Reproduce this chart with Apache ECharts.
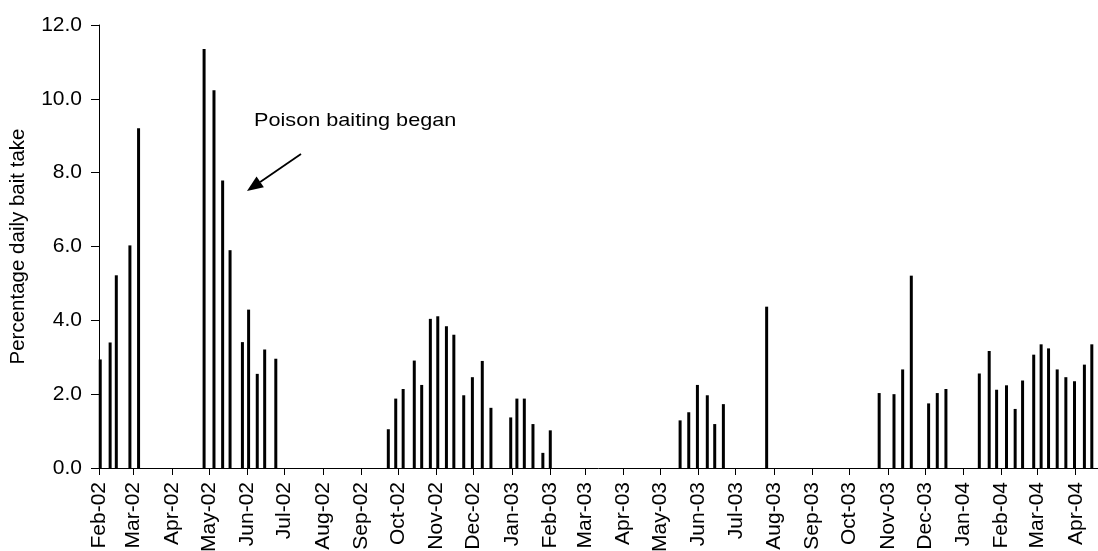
<!DOCTYPE html>
<html>
<head>
<meta charset="utf-8">
<script src="https://cdn.jsdelivr.net/npm/echarts@6/dist/echarts.min.js"></script>
<style>
  html, body { margin: 0; padding: 0; background: #fff; }
  #chart { width: 1098px; height: 551px; }
</style>
</head>
<body>
<div id="chart"></div>
<script>
// Survey dates of each bait-take count
const sampleDates = [
  '2002-02-02', '2002-02-10', '2002-02-15', '2002-02-26', '2002-03-05',
  '2002-04-27', '2002-05-05', '2002-05-12', '2002-05-18', '2002-05-28',
  '2002-06-02', '2002-06-09', '2002-06-15', '2002-06-24',
  '2002-09-23', '2002-09-29', '2002-10-05', '2002-10-14', '2002-10-20',
  '2002-10-27', '2002-11-02', '2002-11-09', '2002-11-15', '2002-11-23',
  '2002-11-30', '2002-12-08', '2002-12-15', '2002-12-31', '2003-01-05',
  '2003-01-11', '2003-01-18', '2003-01-26', '2003-02-01',
  '2003-05-17', '2003-05-24', '2003-05-31', '2003-06-08', '2003-06-14', '2003-06-21',
  '2003-07-26',
  '2003-10-25', '2003-11-06', '2003-11-13', '2003-11-20', '2003-12-04',
  '2003-12-11', '2003-12-18',
  '2004-01-14', '2004-01-22', '2004-01-28', '2004-02-05', '2004-02-12',
  '2004-02-18', '2004-02-27', '2004-03-04', '2004-03-10', '2004-03-17',
  '2004-03-24', '2004-03-31', '2004-04-08', '2004-04-14'
];

// Percentage daily bait take on each date
const baitTake = [
  2.94, 3.40, 5.22, 6.03, 9.20,
  11.35, 10.23, 7.79, 5.90, 3.41,
  4.29, 2.55, 3.21, 2.96,
  1.05, 1.88, 2.14, 2.91, 2.25,
  4.04, 4.11, 3.84, 3.61, 1.97,
  2.46, 2.90, 1.63, 1.37, 1.88,
  1.88, 1.19, 0.41, 1.02,
  1.29, 1.51, 2.25, 1.97, 1.19, 1.73,
  4.37,
  2.03, 2.00, 2.67, 5.21, 1.75,
  2.03, 2.14,
  2.56, 3.17, 2.12, 2.24, 1.60,
  2.37, 3.07, 3.35, 3.24, 2.67,
  2.46, 2.35, 2.80, 3.35
];

// Monthly tick marks along the date axis
const tickDates = [
  '2002-02-01', '2002-03-01', '2002-04-01', '2002-05-01', '2002-06-01',
  '2002-07-01', '2002-08-01', '2002-09-01', '2002-10-01', '2002-11-01',
  '2002-12-01', '2003-01-01', '2003-02-01', '2003-03-01', '2003-04-01',
  '2003-05-01', '2003-06-01', '2003-07-01', '2003-08-01', '2003-09-01',
  '2003-10-01', '2003-11-01', '2003-12-01', '2004-01-01', '2004-02-01',
  '2004-03-01', '2004-04-01'
];
const tickLabels = [
  'Feb-02', 'Mar-02', 'Apr-02', 'May-02', 'Jun-02', 'Jul-02', 'Aug-02',
  'Sep-02', 'Oct-02', 'Nov-02', 'Dec-02', 'Jan-03', 'Feb-03', 'Mar-03',
  'Apr-03', 'May-03', 'Jun-03', 'Jul-03', 'Aug-03', 'Sep-03', 'Oct-03',
  'Nov-03', 'Dec-03', 'Jan-04', 'Feb-04', 'Mar-04', 'Apr-04'
];

const axisStart = '2002-02-01';
const axisEnd = '2004-04-19';

const DAY = 86400000;
function parseDate(s) {
  const p = s.split('-').map(Number);
  return Date.UTC(p[0], p[1] - 1, p[2]);
}
const origin = parseDate(axisStart);
// Whole days since the axis start, so the scale is linear in calendar time
function toDay(s) {
  return Math.round((parseDate(s) - origin) / DAY);
}

const tickDays = tickDates.map(toDay);
const labelByDay = {};
tickDays.forEach((d, i) => { labelByDay[d] = tickLabels[i]; });

const FONT = '"Liberation Sans", Arial, sans-serif';

const chart = echarts.init(document.getElementById('chart'), null, { renderer: 'canvas' });

// Arrow pointing at the start of poisoning
const arrowTail = [301, 154];
const arrowTip = [247, 191];
const headLen = 16, headHalf = 6.5;
const dx = arrowTip[0] - arrowTail[0], dy = arrowTip[1] - arrowTail[1];
const len = Math.hypot(dx, dy);
const ux = dx / len, uy = dy / len;
const base = [arrowTip[0] - headLen * ux, arrowTip[1] - headLen * uy];
const nx = -uy, ny = ux;

chart.setOption({
  animation: false,
  backgroundColor: '#ffffff',
  grid: {
    left: 99, right: 0, top: 25, bottom: 83,
    containLabel: false,
    outerBoundsMode: 'none'
  },
  xAxis: {
    type: 'value',
    min: toDay(axisStart),
    max: toDay(axisEnd),
    axisLine: { show: true, onZero: false, lineStyle: { color: '#000', width: 1 } },
    axisTick: {
      show: true, length: 7, inside: false,
      customValues: tickDays,
      lineStyle: { color: '#000', width: 1 }
    },
    axisLabel: {
      show: true,
      customValues: tickDays,
      rotate: 90,
      margin: 14,
      color: '#000',
      fontFamily: FONT,
      fontSize: 21,
      hideOverlap: false,
      formatter: (v) => labelByDay[v] || ''
    },
    splitLine: { show: false }
  },
  yAxis: {
    type: 'value',
    min: 0, max: 12, interval: 2,
    name: 'Percentage daily bait take',
    nameLocation: 'middle',
    nameRotate: 90,
    nameGap: 70,
    nameTextStyle: { color: '#000', fontFamily: FONT, fontSize: 20.5 },
    axisLine: { show: true, lineStyle: { color: '#000', width: 1 } },
    axisTick: { show: true, length: 8, inside: false, lineStyle: { color: '#000', width: 1 } },
    axisLabel: {
      color: '#000', fontFamily: FONT, fontSize: 21, margin: 17,
      formatter: (v) => v.toFixed(1)
    },
    splitLine: { show: false }
  },
  series: [{
    type: 'bar',
    data: sampleDates.map((d, i) => [toDay(d), baitTake[i]]),
    barWidth: 3,
    itemStyle: { color: '#000' },
    silent: true
  }],
  graphic: [
    {
      type: 'text',
      x: 254,
      y: 111,
      scaleX: 1.14,
      style: {
        text: 'Poison baiting began',
        fill: '#000',
        font: '19px ' + FONT,
        verticalAlign: 'top'
      }
    },
    {
      type: 'line',
      shape: { x1: arrowTail[0], y1: arrowTail[1], x2: base[0], y2: base[1] },
      style: { stroke: '#000', lineWidth: 1.8 }
    },
    {
      type: 'polygon',
      shape: {
        points: [
          arrowTip,
          [base[0] + headHalf * nx, base[1] + headHalf * ny],
          [base[0] - headHalf * nx, base[1] - headHalf * ny]
        ]
      },
      style: { fill: '#000' }
    }
  ]
});
</script>
</body>
</html>
